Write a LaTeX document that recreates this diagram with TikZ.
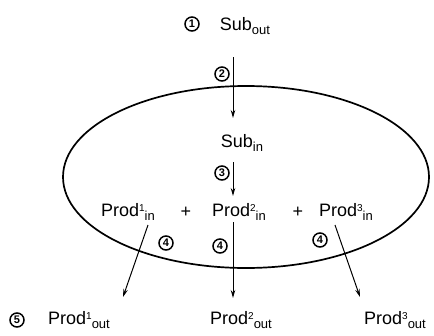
\documentclass[tikz,border=0pt]{standalone}
\usepackage{fontspec}
\setmainfont{Liberation Sans}
\usepackage{tikz}
\usetikzlibrary{arrows.meta}

\newcommand{\up}[1]{\raisebox{0.55ex}{\fontsize{10}{10}\selectfont #1}}
\newcommand{\dn}[1]{\raisebox{-0.45ex}{\fontsize{13}{13}\selectfont #1}}

\begin{document}
\begin{tikzpicture}[x=1pt,y=-1pt,
    lbl/.style={font=\fontsize{18}{20}\selectfont,inner sep=1pt},
    num/.style={circle,draw,line width=1.5pt,inner sep=0pt,minimum size=14pt,font=\fontsize{11}{11}\selectfont\bfseries},
    flow/.style={-{Stealth[length=8pt,width=4.5pt]},line width=1pt}]
    \useasboundingbox (0,0) rectangle (434,335);

    % the cell
    \draw[line width=1.7pt] (246,177) ellipse [x radius=183pt, y radius=91pt];

    \node[num] (n1) at (192,24) {1};
    \node[lbl] (subout) at (245,26) {Sub\dn{out}};

    \coordinate (a2) at (233,57);
    \coordinate (b2) at (233,118);
    \draw[flow] (a2) -- (b2);
    \node[num] (n2) at (222,74) {2};

    \node[lbl] (subin) at (242,143) {Sub\dn{in}};

    \coordinate (a3) at (233,162);
    \coordinate (b3) at (233,196);
    \draw[flow] (a3) -- (b3);
    \node[num] (n3) at (222,173) {3};

    \node[lbl] (p1in) at (128,212) {Prod\up{1}\dn{in}};
    \node[lbl] (plus1) at (186,212) {+};
    \node[lbl] (p2in) at (239,212) {Prod\up{2}\dn{in}};
    \node[lbl] (plus2) at (298,212) {+};
    \node[lbl] (p3in) at (346,212) {Prod\up{3}\dn{in}};

    \node[num] (n5) at (17,320) {5};
    \node[lbl] (p1out) at (79,320) {Prod\up{1}\dn{out}};
    \node[lbl] (p2out) at (241,320) {Prod\up{2}\dn{out}};
    \node[lbl] (p3out) at (395,320) {Prod\up{3}\dn{out}};

    % efflux
    \coordinate (a4) at (148,225);
    \coordinate (b4) at (123,297);
    \coordinate (c4) at (233,222);
    \coordinate (d4) at (233,298);
    \coordinate (e4) at (335,225);
    \coordinate (f4) at (360,297);
    \draw[flow] (a4) -- (b4);
    \draw[flow] (c4) -- (d4);
    \draw[flow] (e4) -- (f4);
    \node[num] (n4a) at (166,243) {4};
    \node[num] (n4b) at (220,246) {4};
    \node[num] (n4c) at (320,240) {4};
\end{tikzpicture}
\end{document}
